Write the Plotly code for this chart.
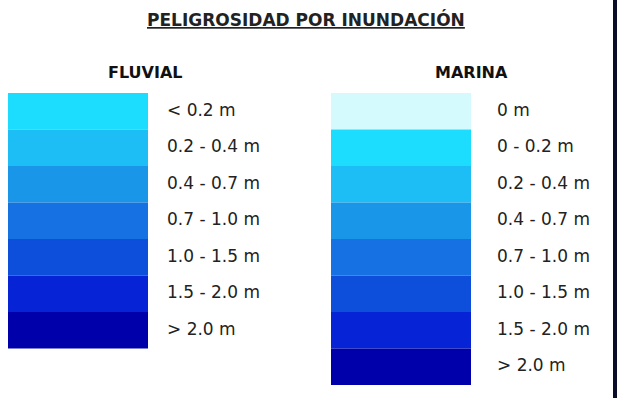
import plotly.graph_objects as go

# legend classes
fluvial_labels = ["< 0.2 m", "0.2 - 0.4 m", "0.4 - 0.7 m", "0.7 - 1.0 m",
                  "1.0 - 1.5 m", "1.5 - 2.0 m", "> 2.0 m"]
fluvial_colors = ["#1DDDFE", "#1CBEF5", "#1996E8", "#1672E2",
                  "#0D4EDA", "#0723D6", "#0000AA"]

marina_labels = ["0 m", "0 - 0.2 m", "0.2 - 0.4 m", "0.4 - 0.7 m", "0.7 - 1.0 m",
                 "1.0 - 1.5 m", "1.5 - 2.0 m", "> 2.0 m"]
marina_colors = ["#D5FAFD", "#1DDDFE", "#1CBEF5", "#1996E8", "#1672E2",
                 "#0D4EDA", "#0723D6", "#0000AA"]

W, H = 617, 398
ROW = 36.5          # px per legend row
TOP = 93            # px where the boxes start
BOX_W = 140
FONT = "DejaVu Sans, Verdana, sans-serif"
TXT = "#222222"


def column(labels, colors, box_x, text_x):
    n = len(labels)
    idx = list(range(n))
    boxes = go.Bar(
        x=[box_x] * n, y=[1] * n, base=idx, width=BOX_W,
        marker=dict(color=colors, line=dict(width=0)),
        hoverinfo="skip", showlegend=False,
    )
    text = go.Scatter(
        x=[text_x] * n, y=[i + 0.5 for i in idx], mode="text",
        text=labels, textposition="middle right",
        textfont=dict(family=FONT, size=17, color=TXT),
        hoverinfo="skip", showlegend=False,
    )
    return [boxes, text]


def label(text, x, y, size, color):
    return dict(text=text, x=x / W, y=1 - y / H, xref="paper", yref="paper",
                xanchor="center", yanchor="middle", showarrow=False,
                font=dict(size=size, color=color, family=FONT))


fig = go.Figure(column(fluvial_labels, fluvial_colors, 78, 167)
                + column(marina_labels, marina_colors, 401, 497))

fig.update_layout(
    width=W, height=H, margin=dict(l=0, r=0, t=0, b=0),
    paper_bgcolor="white", plot_bgcolor="white", barmode="overlay",
    xaxis=dict(range=[0, W], visible=False, fixedrange=True),
    yaxis=dict(range=[(H - TOP) / ROW, -TOP / ROW], visible=False, fixedrange=True),
    font=dict(family=FONT, color=TXT),
    annotations=[
        label("<u><b>PELIGROSIDAD POR INUNDACIÓN</b></u>", 306, 19, 17, TXT),
        label("<b>FLUVIAL</b>", 145, 72, 16, "#111111"),
        label("<b>MARINA</b>", 471, 72, 16, "#111111"),
    ],
    shapes=[dict(type="rect", xref="paper", yref="paper", x0=(W - 4) / W, x1=1,
                 y0=0, y1=1, fillcolor="#0B0B2A", line=dict(width=0))],
)

fig.write_html("out.html", config=dict(displayModeBar=False),
               post_script="document.body.style.margin='0';")
